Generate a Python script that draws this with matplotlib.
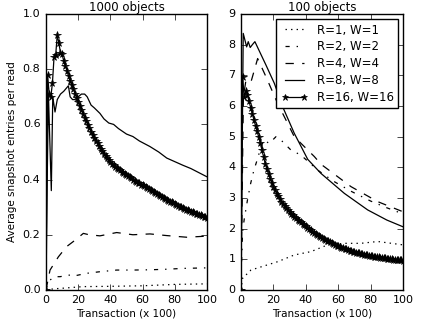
import numpy as np
import matplotlib
matplotlib.use('Agg')
import matplotlib.pyplot as plt

##############################################################################
# 1000 objects (left panel)

l_r1_x = [0, 5, 10, 23, 40, 60, 80, 100]
l_r1_y = [0, 0.004, 0.006, 0.012, 0.013, 0.015, 0.02, 0.022]

l_r2_x = [0, 1, 2.5, 5.6, 8.7, 14.9, 17, 25, 33.5, 43.9, 54, 64.6, 75, 85, 100]
l_r2_y = [0, 0.024, 0.036, 0.048, 0.048, 0.054, 0.05, 0.06, 0.066, 0.072,
          0.072, 0.073, 0.075, 0.078, 0.08]

l_r4_x = [0, 0.4, 2.5, 7.7, 12.8, 18, 23.2, 26.7, 33.5, 43.9, 54, 64.6, 75, 87.4, 100]
l_r4_y = [0, 0.012, 0.072, 0.12, 0.157, 0.18, 0.205, 0.20, 0.196, 0.208,
          0.20, 0.203, 0.197, 0.191, 0.195]

l_r8_x = [0, 0.8, 1.5, 3.3, 4.2, 5.6, 7, 9, 11, 13.9, 15, 16.5, 18, 20, 22, 24,
          25.6, 28, 30, 33.5, 36, 39, 42, 45, 50, 54, 58, 64.5, 70, 75, 80, 85,
          90, 95, 100]
l_r8_y = [0, 0.42, 0.71, 0.36, 0.70, 0.645, 0.69, 0.71, 0.72, 0.74, 0.70, 0.69,
          0.69, 0.70, 0.71, 0.71, 0.70, 0.67, 0.66, 0.64, 0.62, 0.605, 0.60,
          0.585, 0.565, 0.556, 0.54, 0.52, 0.50, 0.478, 0.465, 0.452, 0.44,
          0.425, 0.41]

l_r16_y = [0.00, 0.78, 0.71, 0.70, 0.75, 0.845, 0.85, 0.925, 0.895, 0.86,
           0.855, 0.83, 0.812, 0.795, 0.775, 0.757, 0.742, 0.727, 0.712, 0.696,
           0.680, 0.666, 0.652, 0.638, 0.624, 0.611, 0.598, 0.586, 0.574, 0.562,
           0.551, 0.541, 0.531, 0.521, 0.512, 0.503, 0.494, 0.486, 0.478, 0.470,
           0.462, 0.457, 0.452, 0.447, 0.442, 0.437, 0.433, 0.428, 0.424, 0.420,
           0.416, 0.412, 0.408, 0.404, 0.400, 0.396, 0.393, 0.389, 0.386, 0.382,
           0.379, 0.375, 0.372, 0.368, 0.365, 0.361, 0.358, 0.354, 0.351, 0.347,
           0.344, 0.340, 0.337, 0.333, 0.330, 0.326, 0.323, 0.320, 0.317, 0.314,
           0.311, 0.308, 0.305, 0.302, 0.299, 0.296, 0.293, 0.290, 0.288, 0.286,
           0.284, 0.281, 0.279, 0.277, 0.275, 0.272, 0.270, 0.268, 0.266, 0.263,
           0.261]

##############################################################################
# 100 objects (right panel)

r_r1_x = [0, 1, 6.2, 22.6, 32.9, 43.2, 53.5, 63.8, 74, 84.4, 100]
r_r1_y = [0, 0.38, 0.65, 0.92, 1.14, 1.25, 1.47, 1.52, 1.52, 1.58, 1.47]

r_r2_x = [0, 1, 2, 4, 6, 8, 10, 12, 14, 17.5, 21.6, 24.7, 30.9, 37, 47.3, 57,
          67.9, 80, 90, 100]
r_r2_y = [0.3, 1.9, 2.3, 2.93, 3.48, 3.91, 4.24, 4.6, 4.89, 4.78, 5.0, 4.89,
          4.56, 4.40, 3.91, 3.55, 3.22, 2.9, 2.68, 2.48]

r_r4_x = [0, 1.5, 3.1, 6.2, 10.3, 15.4, 22.6, 32.9, 45.3, 49.4, 67.9, 84.4, 100]
r_r4_y = [0, 6.3, 6.85, 6.79, 7.55, 6.96, 6.09, 5.0, 4.35, 4.1, 3.37, 2.88, 2.55]

r_r8_x = [0, 1.4, 3.5, 4.5, 5.7, 7, 8.6, 15.4, 20.6, 25.7, 32.9, 41.2, 49.4,
          63.8, 78.2, 90, 100]
r_r8_y = [0, 8.37, 7.93, 8.10, 7.91, 8.0, 8.10, 7.34, 6.74, 5.98, 5.11, 4.26,
          3.80, 3.15, 2.61, 2.28, 2.06]

r_r16_y = [0.0, 6.95, 6.30, 6.50, 6.35, 6.15, 5.95, 5.75, 5.55, 5.35, 5.17,
           4.98, 4.78, 4.55, 4.33, 4.12, 3.94, 3.78, 3.63, 3.49, 3.37, 3.25,
           3.14, 3.05, 2.96, 2.88, 2.81, 2.74, 2.67, 2.61, 2.55, 2.49, 2.44,
           2.39, 2.34, 2.29, 2.25, 2.20, 2.16, 2.12, 2.08, 2.02, 1.98, 1.94,
           1.90, 1.87, 1.83, 1.80, 1.76, 1.73, 1.70, 1.67, 1.64, 1.61, 1.58,
           1.55, 1.52, 1.49, 1.47, 1.445, 1.42, 1.40, 1.38, 1.36, 1.34, 1.32,
           1.30, 1.28, 1.265, 1.25, 1.235, 1.22, 1.205, 1.19, 1.175, 1.16, 1.15,
           1.14, 1.13, 1.12, 1.11, 1.10, 1.09, 1.08, 1.07, 1.06, 1.05, 1.04,
           1.035, 1.03, 1.02, 1.01, 1.005, 1.00, 0.99, 0.985, 0.98, 0.97, 0.965,
           0.96, 0.95]

labels = ['R=1, W=1', 'R=2, W=2', 'R=4, W=4', 'R=8, W=8', 'R=16, W=16']

##############################################################################

plt.style.use('classic')
plt.rcParams['figure.facecolor'] = 'white'
plt.rcParams['savefig.facecolor'] = 'white'
plt.rcParams['font.family'] = ['DejaVu Sans']

fig = plt.figure(figsize=(4.22, 3.2), dpi=100)
ax1 = fig.add_axes([0.109, 0.094, 0.3815, 0.862])
ax2 = fig.add_axes([0.571, 0.094, 0.384, 0.862])


def draw(ax, r1, r2, r4, r8, r16):
    ax.plot(r1[0], r1[1], 'k:', lw=0.9)
    ax.plot(r2[0], r2[1], 'k-.', lw=0.9)
    ax.plot(r4[0], r4[1], 'k--', lw=0.9)
    ax.plot(r8[0], r8[1], 'k-', lw=0.9)
    ax.plot(np.arange(len(r16)), r16, 'k-', lw=0.9, marker='*', ms=5.5,
            mfc='k', mec='k')
    ax.set_xlim(0, 100)
    ax.set_xticks([0, 20, 40, 60, 80, 100])
    ax.tick_params(labelsize=8, length=4)
    ax.set_xlabel('Transaction (x 100)', fontsize=7.5, labelpad=2)


draw(ax1, (l_r1_x, l_r1_y), (l_r2_x, l_r2_y), (l_r4_x, l_r4_y),
     (l_r8_x, l_r8_y), l_r16_y)
ax1.set_ylim(0, 1.0)
ax1.set_yticks([0.0, 0.2, 0.4, 0.6, 0.8, 1.0])
ax1.set_title('1000 objects', fontsize=8.5, pad=2)
ax1.set_ylabel('Average snapshot entries per read', fontsize=7.5, labelpad=4)

draw(ax2, (r_r1_x, r_r1_y), (r_r2_x, r_r2_y), (r_r4_x, r_r4_y),
     (r_r8_x, r_r8_y), r_r16_y)
ax2.set_ylim(0, 9)
ax2.set_yticks(range(10))
ax2.set_title('100 objects', fontsize=8.5, pad=2)
ax2.legend(labels, loc='upper right', fontsize=8.5, numpoints=2,
           markerscale=0.85, handlelength=2.2, handletextpad=0.8,
           borderaxespad=0.4, labelspacing=0.32, borderpad=0.4,
           fancybox=False, frameon=True)

plt.savefig('out.png', dpi=100)
plt.close()
